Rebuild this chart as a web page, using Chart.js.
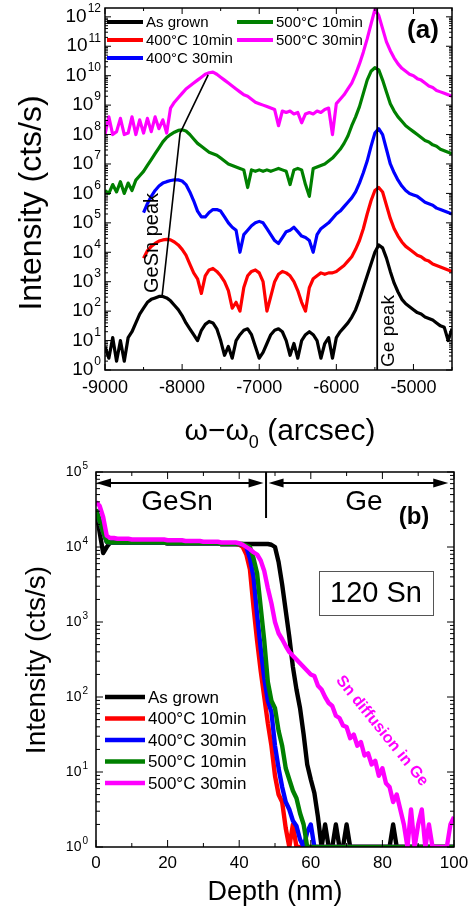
<!DOCTYPE html>
<html><head><meta charset="utf-8">
<script src="https://cdn.jsdelivr.net/npm/chart.js@4.4.0/dist/chart.umd.min.js"></script>
<style>
html,body{margin:0;padding:0;background:#fff;width:468px;height:909px;overflow:hidden}
canvas{position:absolute;left:0}
#a{top:0}
#b{top:455px}
</style></head><body>
<canvas id="a" width="468" height="455"></canvas>
<canvas id="b" width="468" height="454"></canvas>
<script>
// ---------- Panel (a): XRD rocking curves, values as log10(intensity) ----------
const omega = [-9000,-8950,-8900,-8850,-8800,-8750,-8700,-8650,-8600,-8550,
-8500,-8450,-8400,-8350,-8300,-8250,-8200,-8150,-8100,-8050,
-8000,-7950,-7900,-7850,-7800,-7750,-7700,-7650,-7600,-7550,
-7500,-7450,-7400,-7350,-7300,-7250,-7200,-7150,-7100,-7050,
-7000,-6950,-6900,-6850,-6800,-6750,-6700,-6650,-6600,-6550,
-6500,-6450,-6400,-6350,-6300,-6250,-6200,-6150,-6100,-6050,
-6000,-5950,-5900,-5850,-5800,-5750,-5700,-5650,-5600,-5550,
-5500,-5450,-5400,-5350,-5300,-5250,-5200,-5150,-5100,-5050,
-5000,-4950,-4900,-4850,-4800,-4750,-4700,-4650,-4600,-4550,
-4500];
const asGrownA = [0.8,0.4,1.1,0.3,1.0,0.3,1.1,1.3,1.6,1.9,
2.1,2.3,2.4,2.45,2.5,2.5,2.45,2.35,2.2,2.05,
1.85,1.6,1.4,1.2,1.0,1.35,1.55,1.65,1.6,1.4,
1.0,0.5,0.8,0.4,1.0,1.2,1.35,1.4,1.2,0.8,
0.4,0.6,0.9,1.2,1.35,1.4,1.3,1.0,0.5,0.9,
0.4,1.0,1.2,1.3,1.2,1.0,0.4,0.9,1.1,0.4,
1.1,1.3,1.45,1.6,1.8,2.05,2.4,2.8,3.2,3.6,
4.0,4.25,4.15,3.8,3.35,2.95,2.65,2.4,2.25,2.15,
2.05,1.95,1.9,1.8,1.75,1.7,1.6,1.5,1.45,1.0,
1.4];
const a400_10A = [null,null,null,null,null,null,null,null,null,null,
3.8,4.05,4.2,4.3,4.38,4.42,4.44,4.42,4.35,4.25,
4.1,3.9,3.6,3.3,3.1,2.6,3.2,3.4,3.45,3.35,
3.2,3.0,2.7,2.1,2.3,2.0,2.8,3.2,3.35,3.4,
3.3,3.0,2.0,2.5,3.0,3.25,3.35,3.3,3.2,3.0,
2.7,2.3,2.0,2.8,3.1,3.2,3.3,3.25,3.3,3.3,
3.35,3.45,3.55,3.7,3.85,4.1,4.4,4.8,5.3,5.75,
6.1,6.2,6.05,5.6,5.15,4.8,4.55,4.35,4.2,4.1,
4.0,3.9,3.85,3.75,3.7,3.6,3.55,3.5,3.45,3.4,
3.35];
const a400_30A = [null,null,null,null,null,null,null,null,null,null,
5.35,5.65,5.9,6.1,6.25,6.35,6.4,6.44,6.46,6.46,
6.42,6.3,6.05,5.75,5.4,5.2,5.2,5.35,5.45,5.45,
5.4,5.2,5.0,4.85,4.75,4.0,4.6,4.75,4.9,5.0,
5.05,5.0,4.8,4.6,4.4,4.3,4.5,4.7,4.75,4.85,
4.7,4.55,4.5,4.4,4.0,4.6,4.8,4.9,5.0,5.15,
5.3,5.4,5.55,5.7,5.85,6.05,6.35,6.7,7.1,7.6,
8.05,8.2,8.0,7.5,7.0,6.7,6.45,6.25,6.1,6.0,
5.95,5.9,5.8,5.7,5.65,5.6,5.5,5.45,5.4,5.35,
5.3];
const a500_10A = [6.1,6.0,6.3,6.05,6.4,6.0,6.35,6.1,6.45,6.6,
6.75,6.95,7.15,7.35,7.55,7.75,7.9,8.0,8.08,8.14,
8.16,8.12,8.0,7.85,7.7,7.6,7.5,7.4,7.35,7.3,
7.2,7.1,7.0,6.95,6.9,6.85,6.8,6.2,6.8,6.75,
6.8,6.75,6.8,6.75,6.8,6.85,6.8,6.75,6.3,6.8,
6.85,6.8,6.3,5.9,6.85,6.9,6.95,7.0,7.1,7.2,
7.35,7.5,7.7,7.95,8.3,8.6,8.95,9.4,9.85,10.15,
10.27,10.2,9.85,9.45,9.05,8.8,8.6,8.45,8.3,8.2,
8.1,8.0,7.9,7.8,7.75,7.65,7.6,7.5,7.45,7.4,
7.35];
const a500_30A = [8.0,8.6,8.0,8.1,8.55,8.0,8.05,8.6,8.0,8.5,
8.05,8.55,8.1,8.6,8.2,8.5,8.05,8.9,9.1,9.25,
9.4,9.55,9.65,9.75,9.85,9.95,10.05,10.1,10.12,10.05,
9.95,9.85,9.75,9.65,9.55,9.45,9.35,9.3,9.2,9.1,
9.05,9.0,8.95,8.9,8.85,8.3,8.8,8.75,8.8,8.7,
8.75,8.4,8.7,8.75,8.7,8.8,8.75,8.85,8.9,8.0,
9.05,9.2,9.35,9.55,9.75,10.05,10.4,10.8,11.25,11.75,
12.25,12.05,11.6,11.15,10.85,10.6,10.4,10.25,10.15,10.05,
10.0,9.9,9.85,9.75,9.65,9.6,9.5,9.45,9.4,9.35,
9.3];
const gesnPeakX = [-8260,-8026,-7662];
const gesnPeakLog = [2.5,8.05,10.03];
const gePeakX = -5470;
const xTicksA = [-9000,-8000,-7000,-6000,-5000];
const xMinorA = [-8500,-7500,-6500,-5500,-4500];
const yExpA = [0,1,2,3,4,5,6,7,8,9,10,11,12];

// ---------- Panel (b): SIMS 120Sn depth profiles, values as log10(cts/s) ----------
const depth = [0,1,2,3,4,5,6,7,8,9,10,11,12,13,14,15,16,17,18,19,
20,21,22,23,24,25,26,27,28,29,30,31,32,33,34,35,36,37,38,39,
40,41,42,43,44,45,46,47,48,49,50,51,52,53,54,55,56,57,58,59,
60,61,62,63,64,65,66,67,68,69,70,71,72,73,74,75,76,77,78,79,
80,81,82,83,84,85,86,87,88,89,90,91,92,93,94,95,96,97,98,99,100];
const asGrownB = [4.5,4.2,3.92,4.0,4.06,4.06,4.06,4.06,4.06,4.06,
4.06,4.06,4.06,4.06,4.06,4.06,4.06,4.06,4.06,4.06,
4.05,4.05,4.05,4.05,4.05,4.05,4.05,4.05,4.05,4.05,
4.05,4.05,4.05,4.05,4.05,4.04,4.04,4.04,4.04,4.04,
4.04,4.04,4.04,4.04,4.04,4.04,4.04,4.04,4.04,4.03,
4.0,3.8,3.5,3.15,2.8,2.4,2.1,1.85,1.5,1.1,
0.9,0.72,0.4,0,0.3,0,0,0.3,0,0,
0.3,0,0,0,0,0,0,0,0,0,
0,0,0,0.3,0,0,0,0,0,0,
0,0,0,0,0,0,0,0,0,0,0];
const b400_10B = [4.5,4.35,4.2,4.07,4.06,4.06,4.06,4.06,4.06,4.06,
4.06,4.06,4.06,4.06,4.06,4.06,4.06,4.06,4.06,4.06,
4.05,4.05,4.05,4.05,4.05,4.05,4.05,4.05,4.05,4.05,
4.05,4.05,4.05,4.05,4.05,4.04,4.04,4.04,4.04,4.04,
4.03,4.0,3.9,3.7,3.2,2.75,2.35,2.0,1.65,1.35,
0.95,0.7,0.6,0.25,0,0.3,0,0,0,0,
0,0,0,0,0,0,0,0,0,0,
0,0,0,0,0,0,0,0,0,0,
0,0,0,0,0,0,0,0,0,0,
0,0,0,0,0,0,0,0,0,0,0];
const b400_30B = [4.5,4.35,4.2,4.07,4.06,4.06,4.06,4.06,4.06,4.06,
4.06,4.06,4.06,4.06,4.06,4.06,4.06,4.06,4.06,4.06,
4.05,4.05,4.05,4.05,4.05,4.05,4.05,4.05,4.05,4.05,
4.05,4.05,4.05,4.05,4.05,4.04,4.04,4.04,4.04,4.04,
4.04,4.03,4.0,3.85,3.6,3.1,2.65,2.25,1.95,1.8,
1.35,1.05,0.8,0.6,0.5,0.35,0.28,0.1,0,0.2,
0.3,0,0,0,0,0,0,0,0,0,
0,0,0,0,0,0,0,0,0,0,
0,0,0,0,0,0,0,0,0,0,
0,0,0,0,0,0,0,0,0,0,0];
const b500_10B = [4.5,4.35,4.2,4.07,4.06,4.06,4.06,4.06,4.06,4.06,
4.06,4.06,4.06,4.06,4.06,4.06,4.06,4.06,4.06,4.06,
4.05,4.05,4.05,4.05,4.05,4.05,4.05,4.05,4.05,4.05,
4.05,4.05,4.05,4.05,4.05,4.04,4.04,4.04,4.04,4.04,
4.04,4.04,4.02,4.0,3.85,3.65,3.2,2.75,2.2,1.95,
1.85,1.55,1.35,1.05,0.9,0.75,0.65,0.45,0.3,0,
0,0,0,0,0,0,0,0,0,0,
0,0,0,0,0,0,0,0,0,0,
0,0,0,0,0,0,0,0,0,0,
0,0,0,0,0,0,0,0,0,0,0];
const b500_30B = [4.6,4.55,4.4,4.15,4.12,4.12,4.11,4.11,4.11,4.11,
4.1,4.1,4.1,4.1,4.1,4.1,4.1,4.1,4.1,4.1,
4.09,4.09,4.09,4.09,4.09,4.08,4.08,4.08,4.08,4.08,
4.07,4.07,4.07,4.07,4.07,4.06,4.06,4.06,4.06,4.06,
4.05,4.03,4.0,3.97,3.93,3.9,3.82,3.68,3.45,3.25,
3.0,2.85,2.77,2.68,2.6,2.55,2.5,2.45,2.4,2.35,
2.3,2.28,2.15,2.1,2.0,1.92,1.88,1.75,1.72,1.62,
1.6,1.45,1.5,1.35,1.4,1.22,1.25,1.1,1.15,0.95,
1.05,0.85,0.8,0.6,0.7,0.5,0.3,0,0.5,0,
0.3,0.5,0,0.3,0,0,0,0,0,0.3,0.4];
const xTicksB = [0,20,40,60,80,100];
const xMinorB = [10,30,50,70,90];
const yExpB = [0,1,2,3,4,5];
const interfaceDepth = 47.5;

const seriesLabels = ['As grown','400°C 10min','400°C 30min','500°C 10min','500°C 30min'];
const seriesColors = ['#000000','#ff0000','#0000ff','#008000','#ff00ff'];
const seriesOrder = [4,3,2,1,0];

// ---------- helpers ----------
const FONT = "'Liberation Sans', Arial, Helvetica, sans-serif";
const pow10 = v => (v === null ? null : Math.pow(10, v));
const pts = (xs, logs) => xs.map((x, i) => ({x: x, y: pow10(logs[i])}));

function powLabel(ctx, xRight, yc, exp, big, small) {
  const es = String(exp);
  ctx.font = small + 'px ' + FONT;
  const we = ctx.measureText(es).width;
  ctx.font = big + 'px ' + FONT;
  const wb = ctx.measureText('10').width;
  ctx.textAlign = 'left'; ctx.textBaseline = 'middle'; ctx.fillStyle = '#000';
  ctx.fillText('10', xRight - we - wb - 1, yc);
  ctx.font = small + 'px ' + FONT;
  ctx.fillText(es, xRight - we, yc - big * 0.42);
}

function frameAndTicks(chart, xMajor, xMinor, majLen, minLen) {
  const ctx = chart.ctx, a = chart.chartArea, x = chart.scales.x, y = chart.scales.y;
  ctx.save();
  ctx.strokeStyle = '#000';
  ctx.lineWidth = 1;
  const vt = (px, len) => {
    ctx.beginPath(); ctx.moveTo(px, a.bottom); ctx.lineTo(px, a.bottom - len); ctx.stroke();
    ctx.beginPath(); ctx.moveTo(px, a.top); ctx.lineTo(px, a.top + len); ctx.stroke();
  };
  const ht = (py, len) => {
    ctx.beginPath(); ctx.moveTo(a.left, py); ctx.lineTo(a.left + len, py); ctx.stroke();
    ctx.beginPath(); ctx.moveTo(a.right, py); ctx.lineTo(a.right - len, py); ctx.stroke();
  };
  xMajor.forEach(v => vt(x.getPixelForValue(v), majLen));
  xMinor.forEach(v => vt(x.getPixelForValue(v), minLen));
  const lo = Math.floor(Math.log10(y.min)), hi = Math.ceil(Math.log10(y.max));
  for (let n = lo; n <= hi; n++) {
    const m = Math.pow(10, n);
    if (m >= y.min && m <= y.max) ht(y.getPixelForValue(m), majLen);
    for (let k = 2; k <= 9; k++) {
      const v = k * m;
      if (v > y.min && v < y.max) ht(y.getPixelForValue(v), minLen);
    }
  }
  ctx.lineWidth = 1.5;
  ctx.strokeRect(a.left, a.top, a.right - a.left, a.bottom - a.top);
  ctx.restore();
}

function rotText(ctx, txt, cx, cy, ang, font, color) {
  ctx.save();
  ctx.translate(cx, cy); ctx.rotate(ang);
  ctx.font = font; ctx.fillStyle = color || '#000';
  ctx.textAlign = 'center'; ctx.textBaseline = 'middle';
  ctx.fillText(txt, 0, 0);
  ctx.restore();
}

function legendRow(ctx, x1, x2, y, color, label, size, lw) {
  ctx.strokeStyle = color; ctx.lineWidth = lw;
  ctx.beginPath(); ctx.moveTo(x1, y); ctx.lineTo(x2, y); ctx.stroke();
  ctx.fillStyle = '#000'; ctx.font = size + 'px ' + FONT;
  ctx.textAlign = 'left'; ctx.textBaseline = 'middle';
  ctx.fillText(label, x2 + 3, y + 1);
}

function dblArrow(ctx, x1, x2, y) {
  ctx.strokeStyle = '#000'; ctx.fillStyle = '#000'; ctx.lineWidth = 2;
  ctx.beginPath(); ctx.moveTo(x1 + 8, y); ctx.lineTo(x2 - 8, y); ctx.stroke();
  ctx.beginPath(); ctx.moveTo(x1, y); ctx.lineTo(x1 + 15, y - 4.5); ctx.lineTo(x1 + 15, y + 4.5); ctx.closePath(); ctx.fill();
  ctx.beginPath(); ctx.moveTo(x2, y); ctx.lineTo(x2 - 15, y - 4.5); ctx.lineTo(x2 - 15, y + 4.5); ctx.closePath(); ctx.fill();
}

// ---------- chart (a) ----------
const setsA = [asGrownA, a400_10A, a400_30A, a500_10A, a500_30A].map((arr, i) => ({
  label: seriesLabels[i], data: pts(omega, arr), borderColor: seriesColors[i],
  borderWidth: 3.2, pointRadius: 0, order: seriesOrder[i], spanGaps: false
}));
setsA.push({label: 'GeSn peak', data: pts(gesnPeakX, gesnPeakLog), borderColor: '#000', borderWidth: 1.6, pointRadius: 0, order: -1});
setsA.push({label: 'Ge peak', data: [{x: gePeakX, y: 1}, {x: gePeakX, y: Math.pow(10, 12.3)}], borderColor: '#000', borderWidth: 1.8, pointRadius: 0, order: -2});

const plugA = {
  id: 'plugA',
  afterDatasetsDraw(chart) {
    const ctx = chart.ctx, a = chart.chartArea, x = chart.scales.x, y = chart.scales.y;
    frameAndTicks(chart, xTicksA, xMinorA, 6, 3);
    ctx.save();
    yExpA.forEach(e => powLabel(ctx, a.left - 4, y.getPixelForValue(Math.pow(10, e)), e, 19, 12));
    ctx.font = '18px ' + FONT; ctx.fillStyle = '#000'; ctx.textAlign = 'center'; ctx.textBaseline = 'middle';
    xTicksA.forEach(v => ctx.fillText(String(v), x.getPixelForValue(v), a.bottom + 18));
    // x title
    const big = '30px ' + FONT, sub = '18px ' + FONT;
    ctx.font = big; const w1 = ctx.measureText('ω−ω').width, w3 = ctx.measureText(' (arcsec)').width;
    ctx.font = sub; const w2 = ctx.measureText('0').width;
    let sx = 280 - (w1 + w2 + w3) / 2;
    ctx.textAlign = 'left'; ctx.textBaseline = 'alphabetic';
    ctx.font = big; ctx.fillText('ω−ω', sx, 440);
    ctx.font = sub; ctx.fillText('0', sx + w1, 448);
    ctx.font = big; ctx.fillText(' (arcsec)', sx + w1 + w2, 440);
    // y title
    rotText(ctx, 'Intensity (cts/s)', 32, 203, -Math.PI / 2, '32px ' + FONT);
    // legend
    legendRow(ctx, 107, 143, 22, seriesColors[0], seriesLabels[0], 15, 4);
    legendRow(ctx, 107, 143, 40, seriesColors[1], seriesLabels[1], 15, 4);
    legendRow(ctx, 107, 143, 58, seriesColors[2], seriesLabels[2], 15, 4);
    legendRow(ctx, 237, 273, 22, seriesColors[3], seriesLabels[3], 15, 4);
    legendRow(ctx, 237, 273, 40, seriesColors[4], seriesLabels[4], 15, 4);
    // annotations
    ctx.fillStyle = '#000'; ctx.font = 'bold 26px ' + FONT; ctx.textAlign = 'center'; ctx.textBaseline = 'middle';
    ctx.fillText('(a)', 423, 31);
    rotText(ctx, 'GeSn peak', 152, 243, -Math.PI / 2, '20px ' + FONT);
    rotText(ctx, 'Ge peak', 389, 331, -Math.PI / 2, '19px ' + FONT);
    ctx.restore();
  }
};

new Chart(document.getElementById('a'), {
  type: 'line',
  data: {datasets: setsA},
  options: {
    responsive: false, animation: false, devicePixelRatio: 1,
    layout: {padding: {top: 8, right: 16, left: 0, bottom: 0}},
    plugins: {legend: {display: false}, tooltip: {enabled: false}},
    elements: {line: {tension: 0, borderJoinStyle: 'round'}, point: {radius: 0}},
    scales: {
      x: {type: 'linear', min: -9000, max: -4500, bounds: 'data', ticks: {display: false}, grid: {display: false}, border: {display: false}, afterFit(s) { s.height = 85; }},
      y: {type: 'logarithmic', min: 1, max: Math.pow(10, 12.3), bounds: 'data', ticks: {display: false}, grid: {display: false}, border: {display: false}, afterFit(s) { s.width = 105; }}
    }
  },
  plugins: [plugA]
});

// ---------- chart (b) ----------
const setsB = [asGrownB, b400_10B, b400_30B, b500_10B, b500_30B].map((arr, i) => ({
  label: seriesLabels[i], data: pts(depth, arr), borderColor: seriesColors[i],
  borderWidth: 4.4, pointRadius: 0, order: seriesOrder[i]
}));

const plugB = {
  id: 'plugB',
  afterDatasetsDraw(chart) {
    const ctx = chart.ctx, a = chart.chartArea, x = chart.scales.x, y = chart.scales.y;
    frameAndTicks(chart, xTicksB, xMinorB, 7, 4);
    ctx.save();
    yExpB.forEach(e => powLabel(ctx, a.left - 8, y.getPixelForValue(Math.pow(10, e)), e, 14, 10));
    ctx.font = '17px ' + FONT; ctx.fillStyle = '#000'; ctx.textAlign = 'center'; ctx.textBaseline = 'middle';
    xTicksB.forEach(v => ctx.fillText(String(v), x.getPixelForValue(v), a.bottom + 16));
    ctx.font = '27px ' + FONT; ctx.fillText('Depth (nm)', 275, 438);
    rotText(ctx, 'Intensity (cts/s)', 37, 205, -Math.PI / 2, '28px ' + FONT);
    // legend
    for (let i = 0; i < 5; i++) legendRow(ctx, 105, 145, 242 + i * 21.5, seriesColors[i], seriesLabels[i], 17, 4.5);
    // interface annotation
    const xi = x.getPixelForValue(interfaceDepth);
    ctx.strokeStyle = '#000'; ctx.lineWidth = 2;
    ctx.beginPath(); ctx.moveTo(xi, a.top); ctx.lineTo(xi, a.top + 46); ctx.stroke();
    dblArrow(ctx, x.getPixelForValue(0), x.getPixelForValue(46.8), 28);
    dblArrow(ctx, x.getPixelForValue(48.2), x.getPixelForValue(98.4), 28);
    ctx.fillStyle = '#000'; ctx.font = '28px ' + FONT; ctx.textAlign = 'center'; ctx.textBaseline = 'middle';
    ctx.fillText('GeSn', 177, 47);
    ctx.fillText('Ge', 364, 47);
    ctx.font = 'bold 24px ' + FONT; ctx.fillText('(b)', 414, 62);
    // 120 Sn box
    ctx.strokeStyle = '#555'; ctx.lineWidth = 1;
    ctx.strokeRect(319.5, 116.5, 114, 44);
    ctx.fillStyle = '#000'; ctx.font = '29px ' + FONT;
    ctx.fillText('120 Sn', 376, 139);
    rotText(ctx, 'Sn diffusion in Ge', 382, 276, 51 * Math.PI / 180, 'bold 16px ' + FONT, '#ff00ff');
    ctx.restore();
  }
};

new Chart(document.getElementById('b'), {
  type: 'line',
  data: {datasets: setsB},
  options: {
    responsive: false, animation: false, devicePixelRatio: 1,
    layout: {padding: {top: 17, right: 14, left: 0, bottom: 0}},
    plugins: {legend: {display: false}, tooltip: {enabled: false}},
    elements: {line: {tension: 0, borderJoinStyle: 'round'}, point: {radius: 0}},
    scales: {
      x: {type: 'linear', min: 0, max: 100, bounds: 'data', ticks: {display: false}, grid: {display: false}, border: {display: false}, afterFit(s) { s.height = 62; }},
      y: {type: 'logarithmic', min: 1, max: 100000, bounds: 'data', ticks: {display: false}, grid: {display: false}, border: {display: false}, afterFit(s) { s.width = 96; }}
    }
  },
  plugins: [plugB]
});
</script>
</body></html>
